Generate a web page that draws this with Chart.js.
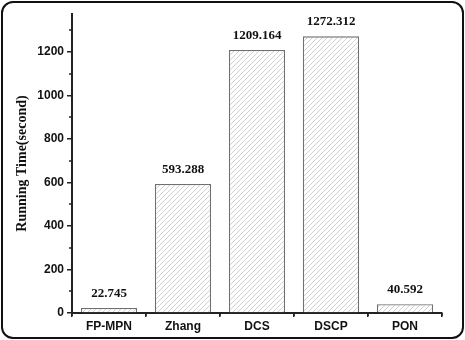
<!DOCTYPE html>
<html>
<head>
<meta charset="utf-8">
<script src="https://cdn.jsdelivr.net/npm/chart.js@4"></script>
<style>
  html, body { margin: 0; padding: 0; background: #fff; }
  #wrap { position: relative; width: 465px; height: 340px; }
  #frame { position: absolute; left: 1px; top: 1px; width: 463px; height: 338px;
           box-sizing: border-box; border: 2px solid #111; border-radius: 12px; pointer-events: none; }
</style>
</head>
<body>
<div id="wrap">
  <canvas id="canvas" width="465" height="340"></canvas>
  <div id="frame"></div>
</div>
<script>
const categories = ['FP-MPN', 'Zhang', 'DCS', 'DSCP', 'PON'];
const runningTime = [22.745, 593.288, 1209.164, 1272.312, 40.592];
const valueLabels = ['22.745', '593.288', '1209.164', '1272.312', '40.592'];
const yTicks = [0, 200, 400, 600, 800, 1000, 1200];

function hatch() {
    const c = document.createElement('canvas');
    c.width = 5; c.height = 5;
    const g = c.getContext('2d');
    g.fillStyle = '#fff';
    g.fillRect(0, 0, 5, 5);
    g.strokeStyle = '#c4c4c4';
    g.lineWidth = 0.8;
    g.beginPath();
    g.moveTo(0, 5); g.lineTo(5, 0);
    g.moveTo(-2.5, 2.5); g.lineTo(2.5, -2.5);
    g.moveTo(2.5, 7.5); g.lineTo(7.5, 2.5);
    g.stroke();
    return document.getElementById('canvas').getContext('2d').createPattern(c, 'repeat');
}

// minor ticks on both axes + value labels above bars
const extras = {
    id: 'extras',
    afterDraw(chart) {
        const ctx = chart.ctx;
        const y = chart.scales.y, x = chart.scales.x;
        ctx.save();
        ctx.strokeStyle = '#222';
        ctx.lineWidth = 1.5;
        ctx.beginPath();
        for (let v = 100; v <= 1300; v += 200) {
            const py = Math.round(y.getPixelForValue(v));
            ctx.moveTo(x.left - 3, py); ctx.lineTo(x.left, py);
        }
        for (let i = 0; i <= categories.length; i++) {
            const px = Math.round(x.getPixelForValue(i - 0.5));
            ctx.moveTo(px, y.bottom); ctx.lineTo(px, y.bottom + 3);
        }
        ctx.stroke();

        ctx.fillStyle = '#111';
        ctx.font = 'bold 13px "Liberation Serif", "Times New Roman", serif';
        ctx.textAlign = 'center';
        ctx.textBaseline = 'bottom';
        chart.getDatasetMeta(0).data.forEach((bar, i) => {
            ctx.fillText(valueLabels[i], bar.x, bar.y - 8);
        });
        ctx.restore();
    }
};

const ctx = document.getElementById('canvas').getContext('2d');
const chart = new Chart(ctx, {
    type: 'bar',
    data: {
        labels: categories,
        datasets: [{
            data: runningTime,
            backgroundColor: hatch(),
            borderColor: '#707070',
            borderWidth: 1.3,
            categoryPercentage: 0.76,
            barPercentage: 1.0
        }]
    },
    options: {
        responsive: false,
        animation: false,
        layout: { padding: { left: 14, right: 23, top: 14, bottom: 0 } },
        plugins: { legend: { display: false }, tooltip: { enabled: false } },
        scales: {
            x: {
                afterFit(s) { s.height = 27; },
                border: { color: '#222', width: 2 },
                grid: { drawOnChartArea: false, tickLength: 4, color: '#222', lineWidth: 1.5 },
                ticks: {
                    color: '#111', padding: 2,
                    font: { family: '"Liberation Sans", Arial, sans-serif', size: 12, weight: 'bold' }
                }
            },
            y: {
                min: 0,
                max: 1375,
                afterBuildTicks(s) { s.ticks = yTicks.map(v => ({ value: v })); },
                afterFit(s) { s.width = 58; },
                border: { color: '#222', width: 2 },
                grid: { drawOnChartArea: false, tickLength: 5, color: '#222', lineWidth: 1.5 },
                ticks: {
                    color: '#111', padding: 3,
                    callback: v => String(v),
                    font: { family: '"Liberation Sans", Arial, sans-serif', size: 12, weight: 'bold' }
                },
                title: {
                    display: true,
                    text: 'Running Time(second)',
                    color: '#111',
                    padding: { top: 0, bottom: 0 },
                    font: { family: '"Liberation Serif", "Times New Roman", serif', size: 14, weight: 'bold' }
                }
            }
        }
    },
    plugins: [extras]
});
</script>
</body>
</html>
